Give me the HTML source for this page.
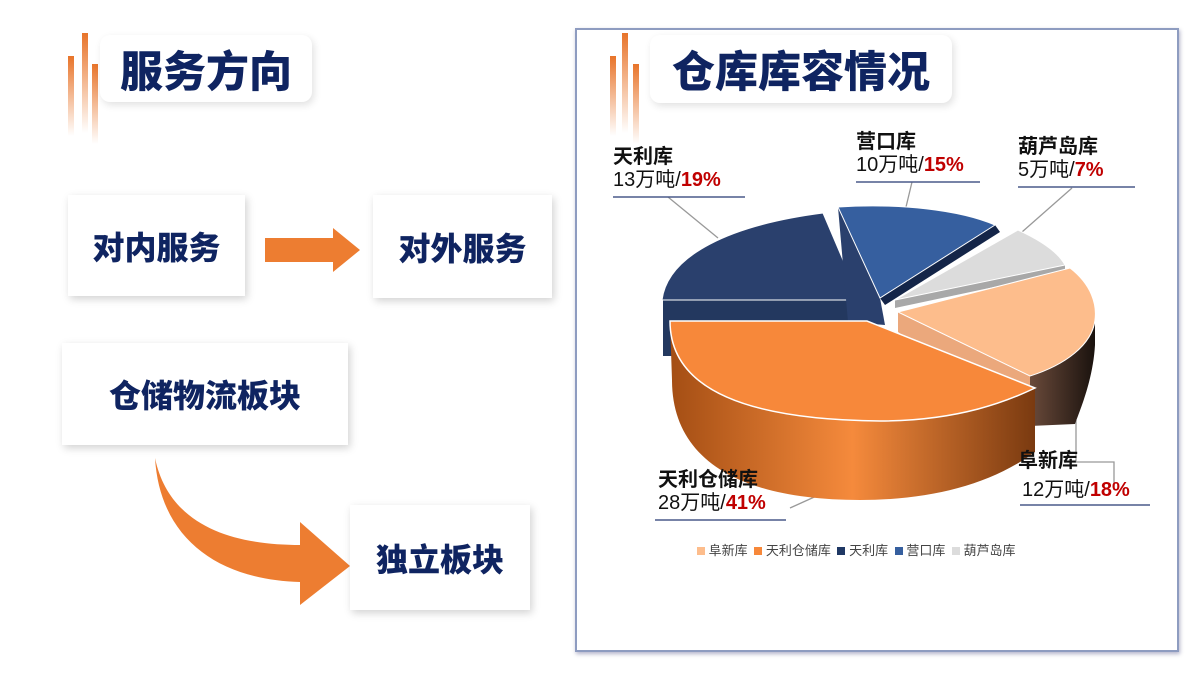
<!DOCTYPE html>
<html><head><meta charset="utf-8">
<style>
body{margin:0;width:1200px;height:674px;background:#fff;position:relative;overflow:hidden;font-family:"Liberation Sans","Noto Sans CJK SC",sans-serif;}
.box{position:absolute;background:#fff;box-shadow:2px 3px 8px rgba(0,0,0,0.18);display:flex;align-items:center;justify-content:center;color:#0f2461;font-weight:900;}
.title{position:absolute;background:#fff;border-radius:10px;box-shadow:2px 3px 8px rgba(0,0,0,0.12);color:#0f2461;font-weight:900;font-size:43px;display:flex;align-items:center;justify-content:center;}
.bar{position:absolute;width:6px;background:linear-gradient(#e8742a,rgba(255,255,255,0));}
.lbl{position:absolute;font-size:20px;color:#111;line-height:23px;}
.lbl b{font-weight:bold}
.lbl .r{color:#c00000;font-weight:bold}
</style></head><body>
<div class="bar" style="left:68px;top:56px;height:80px"></div>
<div class="bar" style="left:82px;top:33px;height:100px"></div>
<div class="bar" style="left:92px;top:64px;height:80px"></div>
<div class="title" style="left:100px;top:35px;width:212px;height:67px">服务方向</div>

<div class="box" style="left:68px;top:195px;width:177px;height:101px;font-size:32px">对内服务</div>
<div class="box" style="left:373px;top:195px;width:179px;height:103px;font-size:32px">对外服务</div>
<svg style="position:absolute;left:0;top:0" width="600" height="674">
<polygon points="265,238 333,238 333,228 360,250 333,272 333,262 265,262" fill="#ed7d31"/>
<path d="M155,458 C170,530 240,545 300,545 L300,522 L350,566 L300,605 L300,582 C220,580 160,540 155,458 Z" fill="#ed7d31"/>
</svg>
<div class="box" style="left:62px;top:343px;width:286px;height:102px;font-size:32px">仓储物流板块</div>
<div class="box" style="left:350px;top:505px;width:180px;height:105px;font-size:32px">独立板块</div>

<div style="position:absolute;left:575px;top:28px;width:600px;height:620px;border:2px solid #8e9cc0;box-shadow:1px 2px 4px rgba(0,0,80,0.3)"></div>
<div class="bar" style="left:610px;top:56px;height:80px"></div>
<div class="bar" style="left:622px;top:33px;height:100px"></div>
<div class="bar" style="left:633px;top:64px;height:80px"></div>
<div class="title" style="left:650px;top:35px;width:302px;height:68px">仓库库容情况</div>

<svg style="position:absolute;left:0;top:0" width="1200" height="674">
<defs>
<linearGradient id="og" x1="0" x2="1"><stop offset="0" stop-color="#a44e14"/><stop offset="0.5" stop-color="#f58a3c"/><stop offset="1" stop-color="#7a3a10"/></linearGradient>
<linearGradient id="dk" x1="0" x2="1"><stop offset="0" stop-color="#6a4a3a"/><stop offset="1" stop-color="#1a120e"/></linearGradient>
</defs>
<g stroke="#999" stroke-width="1.3" fill="none">
<line x1="668" y1="197" x2="718" y2="238"/>
<line x1="912" y1="182" x2="906" y2="207"/>
<line x1="1072" y1="188" x2="1022" y2="232"/>
<polyline points="1076,420 1076,462 1114,462 1114,490"/>
<line x1="790" y1="508" x2="852" y2="480"/>
</g>
<!-- Tianli navy -->
<rect x="663" y="300" width="197" height="56" fill="#23385f"/>
<path d="M662,300 C668,255 730,225 823,213 L860,300 Z" fill="#2a406d" stroke="#fff" stroke-width="1"/>
<!-- Yingkou -->
<polygon points="880,298 995,225 1000,232 885,305" fill="#142548"/>
<polygon points="838,207 880,298 885,325 848,322" fill="#2a406d"/>
<path d="M838,207 C900,203 960,210 995,225 L880,298 Z" fill="#365f9f" stroke="#fff" stroke-width="1"/>
<!-- Huludao -->
<polygon points="895,300 1065,265 1065,272 895,308" fill="#a8a8a8"/>
<path d="M895,300 L1018,230 C1040,240 1058,252 1065,265 Z" fill="#dcdcdc" stroke="#fff" stroke-width="1"/>
<!-- Fuxin -->
<path d="M1030,376 C1070,360 1095,340 1095,320 L1095,345 C1093,380 1080,410 1075,424 L1030,426 Z" fill="url(#dk)"/>
<polygon points="898,312 1030,376 1030,426 898,332" fill="#eba87c"/>
<path d="M898,312 L1070,268 C1092,285 1097,305 1095,320 C1092,345 1065,365 1030,376 Z" fill="#fdbd8c" stroke="#fff" stroke-width="1"/>
<!-- orange -->
<path d="M670,321 C670,395 760,420 880,421 C960,421 1010,400 1035,388 L1035,452 C990,485 930,500 860,500 C740,500 672,460 672,380 Z" fill="url(#og)"/>
<path d="M670,321 L867,321 L1035,388 C1010,400 960,421 880,421 C760,420 670,395 670,321 Z" fill="#f7883a" stroke="#fff" stroke-width="1.5"/>
<g stroke="#4a5a8a" stroke-width="1.5">
<line x1="613" y1="197" x2="745" y2="197"/>
<line x1="856" y1="182" x2="980" y2="182"/>
<line x1="1018" y1="187" x2="1135" y2="187"/>
<line x1="1020" y1="505" x2="1150" y2="505"/>
<line x1="655" y1="520" x2="786" y2="520"/>
</g>
</svg>

<div class="lbl" style="left:613px;top:146px"><b>天利库</b><br>13万吨/<span class="r">19%</span></div>
<div class="lbl" style="left:856px;top:131px"><b>营口库</b><br>10万吨/<span class="r">15%</span></div>
<div class="lbl" style="left:1018px;top:136px"><b>葫芦岛库</b><br>5万吨/<span class="r">7%</span></div>
<div class="lbl" style="left:1018px;top:450px"><b>阜新库</b></div>
<div class="lbl" style="left:1022px;top:479px">12万吨/<span class="r">18%</span></div>
<div class="lbl" style="left:658px;top:469px"><b>天利仓储库</b><br>28万吨/<span class="r">41%</span></div>

<div style="position:absolute;left:697px;top:543px;font-size:13px;color:#444;white-space:nowrap;line-height:16px">
<span style="display:inline-block;width:8px;height:8px;background:#fdbd8c"></span> 阜新库
<span style="display:inline-block;width:8px;height:8px;background:#f7883a;margin-left:3px"></span> 天利仓储库
<span style="display:inline-block;width:8px;height:8px;background:#1f3864;margin-left:3px"></span> 天利库
<span style="display:inline-block;width:8px;height:8px;background:#365f9f;margin-left:3px"></span> 营口库
<span style="display:inline-block;width:8px;height:8px;background:#dcdcdc;margin-left:3px"></span> 葫芦岛库
</div>
</body></html>
